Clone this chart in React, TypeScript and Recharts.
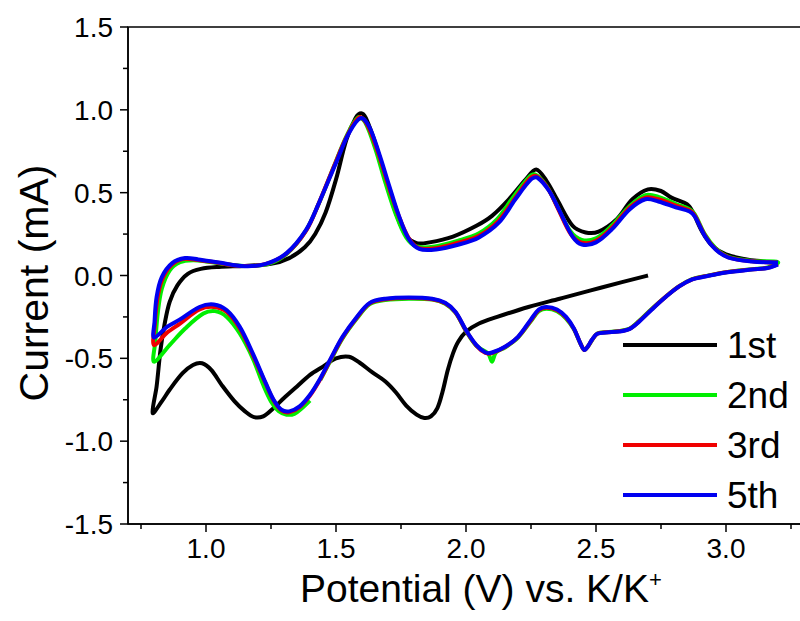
import { LineChart, Line, XAxis, YAxis, ReferenceArea } from 'recharts';

type Pt = [number, number]; // [potential V, current mA]

// 1st cycle: starts at OCV, sweeps down to 0.8 V, then up to 3.2 V
const cycle1: Pt[] = [
  [2.70, 0.0], [2.60, -0.04], [2.48, -0.09], [2.36, -0.14], [2.24, -0.19], [2.12, -0.25], [2.05, -0.29],
  [2.0, -0.34], [1.97, -0.40], [1.95, -0.47], [1.93, -0.57], [1.91, -0.70], [1.89, -0.80], [1.865, -0.85],
  [1.84, -0.86], [1.81, -0.84], [1.77, -0.785], [1.73, -0.705], [1.69, -0.64], [1.64, -0.585], [1.59, -0.525],
  [1.55, -0.49], [1.50, -0.50], [1.45, -0.55], [1.40, -0.60], [1.35, -0.67], [1.30, -0.74], [1.26, -0.80],
  [1.22, -0.85], [1.185, -0.855], [1.15, -0.82], [1.11, -0.76], [1.06, -0.66], [1.02, -0.57], [0.985, -0.53],
  [0.95, -0.54], [0.91, -0.59], [0.86, -0.69], [0.83, -0.76], [0.795, -0.83],
  [0.81, -0.67], [0.825, -0.45], [0.84, -0.30], [0.86, -0.16], [0.89, -0.06], [0.93, 0.01], [0.98, 0.04],
  [1.05, 0.052], [1.15, 0.058], [1.25, 0.07], [1.32, 0.105], [1.38, 0.17], [1.42, 0.25], [1.46, 0.38],
  [1.50, 0.58], [1.54, 0.82], [1.575, 0.95], [1.597, 0.98], [1.615, 0.95], [1.655, 0.78], [1.69, 0.58],
  [1.73, 0.38], [1.77, 0.24], [1.81, 0.195], [1.86, 0.20], [1.95, 0.235], [2.04, 0.30], [2.10, 0.36],
  [2.165, 0.46], [2.23, 0.58], [2.27, 0.64], [2.31, 0.57], [2.35, 0.46], [2.41, 0.30], [2.46, 0.26],
  [2.51, 0.265], [2.58, 0.34], [2.64, 0.46], [2.70, 0.52], [2.75, 0.51], [2.79, 0.47], [2.85, 0.43],
  [2.87, 0.39], [2.91, 0.26], [2.95, 0.175], [3.00, 0.127], [3.08, 0.097], [3.14, 0.085], [3.20, 0.072],
];

// 2nd cycle (has the two short tails near 1.4 V and 2.1 V)
const cycle2: Pt[] = [
  [1.40, -0.755], [1.37, -0.80], [1.34, -0.835], [1.31, -0.84], [1.28, -0.82], [1.25, -0.76], [1.22, -0.66],
  [1.18, -0.50], [1.13, -0.35], [1.08, -0.25], [1.035, -0.215], [0.99, -0.23], [0.92, -0.32], [0.86, -0.42],
  [0.80, -0.52],
  [0.805, -0.40], [0.815, -0.22], [0.83, -0.08], [0.86, 0.03], [0.90, 0.08], [0.95, 0.092], [1.00, 0.085],
  [1.08, 0.068], [1.16, 0.058], [1.24, 0.07], [1.31, 0.13], [1.38, 0.26], [1.43, 0.42], [1.49, 0.65],
  [1.54, 0.84], [1.585, 0.955], [1.612, 0.925], [1.65, 0.77], [1.69, 0.56], [1.73, 0.37], [1.77, 0.23],
  [1.81, 0.175], [1.88, 0.175], [1.97, 0.21], [2.05, 0.255], [2.12, 0.34], [2.18, 0.47], [2.24, 0.59],
  [2.265, 0.61], [2.31, 0.54], [2.35, 0.42], [2.40, 0.27], [2.445, 0.215], [2.50, 0.225], [2.56, 0.30],
  [2.63, 0.42], [2.69, 0.485], [2.74, 0.475], [2.81, 0.43], [2.86, 0.40], [2.88, 0.37], [2.92, 0.245],
  [2.96, 0.165], [3.01, 0.112], [3.10, 0.088], [3.20, 0.08],
  [3.16, 0.048], [3.10, 0.038], [3.00, 0.02], [2.92, -0.004], [2.87, -0.022], [2.82, -0.064], [2.77, -0.125],
  [2.715, -0.20], [2.665, -0.275], [2.63, -0.32], [2.59, -0.335], [2.54, -0.342], [2.505, -0.35],
  [2.485, -0.39], [2.468, -0.43], [2.455, -0.45], [2.44, -0.41], [2.415, -0.325], [2.385, -0.26],
  [2.35, -0.215], [2.31, -0.20], [2.28, -0.215], [2.25, -0.275], [2.20, -0.375], [2.15, -0.435],
  [2.115, -0.465], [2.10, -0.52], [2.085, -0.47], [2.04, -0.425], [2.00, -0.335], [1.96, -0.225],
  [1.92, -0.17], [1.87, -0.145], [1.78, -0.14], [1.69, -0.148], [1.63, -0.172], [1.58, -0.26],
  [1.525, -0.38], [1.48, -0.51], [1.44, -0.63],
];

const cycle3: Pt[] = [
  [3.20, 0.068], [3.16, 0.046], [3.10, 0.037], [3.00, 0.019], [2.92, -0.005], [2.87, -0.023], [2.82, -0.065],
  [2.77, -0.126], [2.715, -0.203], [2.665, -0.278], [2.63, -0.321], [2.59, -0.337], [2.54, -0.343],
  [2.505, -0.351], [2.485, -0.388], [2.468, -0.43], [2.455, -0.45], [2.44, -0.41], [2.415, -0.322],
  [2.385, -0.255], [2.35, -0.21], [2.31, -0.195], [2.28, -0.21], [2.25, -0.27], [2.20, -0.372],
  [2.15, -0.432], [2.10, -0.468], [2.075, -0.468], [2.04, -0.423], [2.00, -0.333], [1.96, -0.223],
  [1.92, -0.168], [1.87, -0.143], [1.78, -0.136], [1.69, -0.144], [1.63, -0.168], [1.58, -0.255],
  [1.525, -0.375], [1.48, -0.505], [1.44, -0.625], [1.40, -0.725], [1.36, -0.795], [1.32, -0.825],
  [1.29, -0.815], [1.26, -0.755], [1.23, -0.655], [1.18, -0.48], [1.13, -0.32], [1.08, -0.22],
  [1.03, -0.19], [0.975, -0.205], [0.90, -0.29], [0.85, -0.345], [0.80, -0.42],
  [0.803, -0.30], [0.812, -0.15], [0.83, -0.03], [0.865, 0.06], [0.91, 0.10], [0.96, 0.095], [1.04, 0.078],
  [1.14, 0.057], [1.23, 0.07], [1.31, 0.133], [1.385, 0.27], [1.435, 0.44], [1.495, 0.67], [1.545, 0.85],
  [1.59, 0.955], [1.62, 0.91], [1.66, 0.75], [1.70, 0.55], [1.74, 0.365], [1.78, 0.225], [1.82, 0.165],
  [1.885, 0.165], [1.97, 0.198], [2.05, 0.24], [2.125, 0.33], [2.19, 0.47], [2.245, 0.585], [2.27, 0.60],
  [2.315, 0.525], [2.355, 0.40], [2.405, 0.245], [2.446, 0.198], [2.50, 0.21], [2.56, 0.287], [2.63, 0.41],
  [2.69, 0.47], [2.74, 0.46], [2.81, 0.42], [2.86, 0.393], [2.88, 0.362], [2.92, 0.24], [2.96, 0.16],
  [3.01, 0.11], [3.10, 0.086], [3.20, 0.079],
];

const cycle5: Pt[] = [
  [3.20, 0.066], [3.16, 0.045], [3.10, 0.036], [3.00, 0.018], [2.92, -0.006], [2.87, -0.024], [2.82, -0.066],
  [2.77, -0.127], [2.715, -0.205], [2.665, -0.28], [2.63, -0.322], [2.59, -0.338], [2.54, -0.344],
  [2.505, -0.352], [2.485, -0.386], [2.468, -0.43], [2.455, -0.45], [2.44, -0.41], [2.415, -0.32],
  [2.385, -0.25], [2.35, -0.205], [2.31, -0.19], [2.28, -0.205], [2.25, -0.265], [2.20, -0.37],
  [2.15, -0.43], [2.10, -0.465], [2.075, -0.465], [2.04, -0.42], [2.00, -0.33], [1.96, -0.22],
  [1.92, -0.165], [1.87, -0.14], [1.78, -0.133], [1.69, -0.14], [1.63, -0.165], [1.58, -0.25],
  [1.525, -0.37], [1.48, -0.50], [1.44, -0.62], [1.40, -0.72], [1.36, -0.79], [1.32, -0.82], [1.29, -0.81],
  [1.26, -0.75], [1.23, -0.65], [1.18, -0.47], [1.13, -0.31], [1.08, -0.21], [1.03, -0.175], [0.975, -0.19],
  [0.90, -0.265], [0.85, -0.31], [0.80, -0.375],
  [0.802, -0.28], [0.81, -0.13], [0.83, -0.01], [0.87, 0.075], [0.92, 0.105], [0.97, 0.097], [1.05, 0.078],
  [1.15, 0.056], [1.23, 0.07], [1.31, 0.135], [1.385, 0.275], [1.435, 0.44], [1.50, 0.68], [1.55, 0.86],
  [1.595, 0.95], [1.627, 0.90], [1.665, 0.74], [1.705, 0.54], [1.742, 0.36], [1.78, 0.22], [1.82, 0.16],
  [1.885, 0.157], [1.973, 0.187], [2.05, 0.23], [2.127, 0.32], [2.19, 0.46], [2.25, 0.58], [2.275, 0.59],
  [2.32, 0.51], [2.36, 0.39], [2.41, 0.235], [2.446, 0.187], [2.50, 0.20], [2.56, 0.277], [2.63, 0.40],
  [2.69, 0.46], [2.74, 0.447], [2.81, 0.41], [2.86, 0.386], [2.88, 0.356], [2.92, 0.235], [2.96, 0.157],
  [3.01, 0.108], [3.10, 0.085], [3.20, 0.078],
];

const seriesNames = ['1st', '2nd', '3rd', '5th'];
const seriesColors = ['#000000', '#00ee00', '#f00000', '#0000f0'];
const seriesData = [cycle1, cycle2, cycle3, cycle5];

const xTicks = [0.75, 1.0, 1.25, 1.5, 1.75, 2.0, 2.25, 2.5, 2.75, 3.0, 3.25];
const yTicks = [-1.5, -1.25, -1.0, -0.75, -0.5, -0.25, 0, 0.25, 0.5, 0.75, 1.0, 1.25, 1.5];

const FONT = '"Liberation Sans", Arial, sans-serif';

const isMajor = (v: number) => Math.abs(v * 2 - Math.round(v * 2)) < 1e-6;

// smooth curve through the points, tangents scaled by chord length so sharp turns don't overshoot
const chordCurve = (context: any) => {
  let pts: number[][] = [];
  return {
    areaStart() {},
    areaEnd() {},
    lineStart() {
      pts = [];
    },
    point(x: number, y: number) {
      pts.push([+x, +y]);
    },
    lineEnd() {
      const n = pts.length;
      if (!n) return;
      context.moveTo(pts[0][0], pts[0][1]);
      const d = (a: number[], b: number[]) => Math.hypot(b[0] - a[0], b[1] - a[1]) || 1e-6;
      for (let i = 0; i < n - 1; i++) {
        const p0 = pts[Math.max(i - 1, 0)];
        const p1 = pts[i];
        const p2 = pts[i + 1];
        const p3 = pts[Math.min(i + 2, n - 1)];
        const d12 = d(p1, p2);
        const s1 = d12 / (3 * (d(p0, p1) + d12));
        const s2 = d12 / (3 * (d12 + d(p2, p3)));
        context.bezierCurveTo(
          p1[0] + (p2[0] - p0[0]) * s1,
          p1[1] + (p2[1] - p0[1]) * s1,
          p2[0] - (p3[0] - p1[0]) * s2,
          p2[1] - (p3[1] - p1[1]) * s2,
          p2[0],
          p2[1],
        );
      }
    },
  };
};

const XTick = (props: any) => {
  const { x, y, payload } = props;
  const major = isMajor(payload.value);
  return (
    <g>
      <line x1={x} y1={y} x2={x} y2={y + (major ? 8 : 5)} stroke="#000" strokeWidth={1.5} />
      {major && (
        <text x={x} y={y + 34} textAnchor="middle" fontSize={28} fontFamily={FONT} fill="#000">
          {payload.value.toFixed(1)}
        </text>
      )}
    </g>
  );
};

const YTick = (props: any) => {
  const { x, y, payload } = props;
  const major = isMajor(payload.value);
  return (
    <g>
      <line x1={x - (major ? 8 : 5)} y1={y} x2={x} y2={y} stroke="#000" strokeWidth={1.5} />
      {major && (
        <text x={x - 15} y={y + 10} textAnchor="end" fontSize={28} fontFamily={FONT} fill="#000">
          {payload.value.toFixed(1)}
        </text>
      )}
    </g>
  );
};

export default function App() {
  return (
    <div style={{ position: 'absolute', left: 0, top: 0, width: 800, height: 621, overflow: 'hidden', background: '#fff' }}>
      <LineChart width={830} height={621} margin={{ top: 27, right: 26, bottom: 0, left: 0 }}>
        <XAxis
          type="number"
          dataKey="v"
          domain={[0.7, 3.3]}
          allowDataOverflow
          ticks={xTicks}
          interval={0}
          height={97}
          tickSize={0}
          tickMargin={0}
          tickLine={false}
          axisLine={{ stroke: '#000', strokeWidth: 1.5 }}
          tick={<XTick />}
        />
        <YAxis
          type="number"
          domain={[-1.5, 1.5]}
          allowDataOverflow
          ticks={yTicks}
          interval={0}
          width={128}
          tickSize={0}
          tickMargin={0}
          tickLine={false}
          axisLine={{ stroke: '#000', strokeWidth: 1.5 }}
          tick={<YTick />}
        />
        <ReferenceArea x1={0.7} x2={3.3} y1={-1.5} y2={1.5} fill="none" stroke="#000" strokeWidth={1.5} />
        {seriesData.map((pts, k) => (
          <Line
            key={seriesNames[k]}
            data={pts.map(([v, i]) => ({ v, i }))}
            dataKey="i"
            type={chordCurve as any}
            stroke={seriesColors[k]}
            strokeWidth={4}
            strokeLinejoin="round"
            dot={false}
            activeDot={false}
            isAnimationActive={false}
          />
        ))}
      </LineChart>
      <svg width={800} height={621} style={{ position: 'absolute', left: 0, top: 0, pointerEvents: 'none' }}>
        <text x={300} y={602} fontSize={39} fontFamily={FONT} fill="#000">
          Potential (V) vs. K/K<tspan dy={-15} fontSize={22}>+</tspan>
        </text>
        <text transform="translate(48,283) rotate(-90)" textAnchor="middle" fontSize={41} fontFamily={FONT} fill="#000">
          Current (mA)
        </text>
        {seriesNames.map((name, k) => (
          <g key={name}>
            <line x1={623} x2={717} y1={345 + k * 50} y2={345 + k * 50} stroke={seriesColors[k]} strokeWidth={4} />
            <text x={727} y={345 + k * 50 + 13} fontSize={37} fontFamily={FONT} fill="#000">
              {name}
            </text>
          </g>
        ))}
      </svg>
    </div>
  );
}
